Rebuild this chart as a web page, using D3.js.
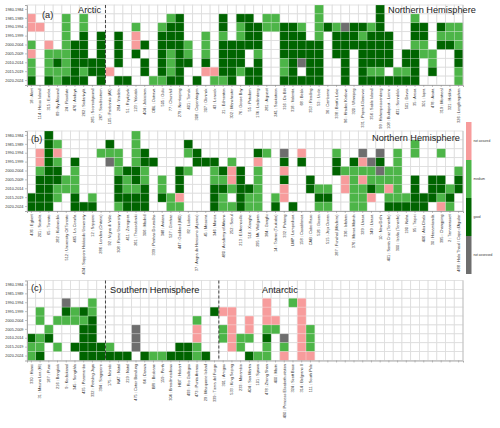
<!DOCTYPE html>
<html>
<head>
<meta charset="utf-8">
<script src="https://cdn.jsdelivr.net/npm/d3@7"></script>
<style>
  body { margin: 0; background: #fff; }
  text { font-family: "Liberation Sans", Arial, sans-serif; }
</style>
</head>
<body>
<script>
// time periods (rows)
const periods = ["1980-1984", "1985-1989", "1990-1994", "1995-1999", "2000-2004",
                 "2005-2009", "2010-2014", "2015-2019", "2020-2024"];

// quality classes: p = not assured, m = medium, g = good, x = not assessed, . = no data
const classes = ["p", "m", "g", "x"];
const classNames = ["not assured", "medium", "good", "not assessed"];

// (a) Arctic + Northern Hemisphere
const stationsA = ["18 : Alert", "114 : Heiss Island", "315 : Eureka", "89 : Ny Ålesund", "24 : Resolute",
  "476 : Andoya", "262 : Sodankylä", "285 : Scoresbysund", "267 : Sondrestrom", "105 : Fairbanks (AK)",
  "284 : Vindeln", "51 : Reykjavik", "123 : Yakutsk", "404 : Jokioinen", "OBL : Ostrava",
  "505 : Oulu", "77 : Churchill", "279 : Norrkoping", "401 : Tomsk", "308 : Copenhagen",
  "307 : Obninsk", "43 : Lerwick", "21 : Edmonton", "302 : Manchester", "76 : Goose Bay",
  "55 : Potsdam", "174 : Lindenberg", "281 : Aiguest", "241 : Saskatoon", "316 : De Bilt",
  "318 : Valentia", "68 : Belsk", "353 : Reading", "53 : Uccle", "36 : Camborne",
  "338 : Bratt's Lake", "96 : Hradec Kralove", "320 : Winnipeg", "331 : Poprad-Ganovce", "356 : Sable Island",
  "99 : Hohenpeissenberg", "108 : Budapest - Lorinc", "431 : Sonnblick", "501 : Davos", "35 : Arosa",
  "301 : Ispra", "478 : Aosta", "319 : Montreal", "321 : Halifax", "326 : Longfengshan"];
const qualityA = [".pp.mpmmg", "..p......", "....pmmmg", ".....mgmm", ".mmmmmmmg",
  "....ggggg", ".mmggggmg", "......gg.", "...gggggg", ".......p.",
  "...gggg.g", "........g", "..mppg...", "....g.gg.", "........m",
  "..mgggggm", ".mgggmmmg", ".gggggggg", "....mmg..", "........g",
  "...mmmgp.", ".......pm", ".ggmggggm", "....ggggg", ".gmmgggm.",
  ".gggg..gg", "..gggmggg", ".mm......", ".mm......", "..ggggmmg",
  "..ggggggg", "..mgggx.g", "....ggggg", "mmmmggggg", "..g......",
  "..mggg...", "..xgggggg", "..ggg....", "..gmggggg", "..mggggmg",
  "gggggggmg", "...gggg.g", ".......mg", ".....ggmg", ".mggmgggg",
  "..ggmm...", ".....mmg.", "..gmg....", "..mmg....", "..mmmggmm"];

// (b) Northern Hemisphere
const stationsB = ["436 : Egbert", "201 : Sestola", "65 : Toronto", "282 : Kislovodsk", "512 : University Of Toronto",
  "465 : La Coruña", "434 : Sapporo Hokkaido University", "12 : Sapporo", "286 : London (Ontario)", "92 : Vigna di Valle",
  "308 : Rome University", "411 : Zaragoza", "261 : Thessaloniki", "306 : Madrid", "339 : Penhas Douradas",
  "348 : Ankara", "527 : Gimhae", "447 : Goddard (MD)", "82 : Lisbon", "37 : Angra do Heroismo (Açores)",
  "45 : Messina", "346 : Murcia", "480 : Academy of Athens", "252 : Seoul", "213 : El Arenosillo",
  "516 : Xianghe", "295 : Mt. Waliguan", "384 : Gongfu", "14 : Tateno (Tsukuba)", "332 : Pohang",
  "LMP : Lampedusa", "158 : Casablanca", "CAB : Cabo Raso", "526 : Gosan", "515 : Jeju Ocean",
  "287 : Funchal (Madeira)", "336 : Isfahan", "376 : Mersa Matruh", "329 : Lhasa", "349 : Lhasa",
  "10 : New Delhi", "401 : Santa Cruz (Tenerife)", "300 : Izaña (Tenerife)", "190 : Naha", "95 : Taipei",
  "406 : Abu Dhabi", "30 : Hanamkonda", "395 : Changping", "2 : Tamanrasset", "488 : Hala Thaul / Cape d'Aguilar"];
const qualityB = [".......gg", "..ppmgggg", "ggggggggg", ".mpmggmm.", ".....mm..",
  "...gmmmgg", "........g", ".......mg", "..m......", ".gmx.....",
  "..mmmgggm", "....gmmgg", "mmmmggmgg", "..ggmmggg", "...g.....",
  ".....mmg.", ".......mm", "....gggpm", ".gm.m....", "..gg.....",
  "...g.....", "...gmmggg", "....gmgmm", "...mppm.m", "....ggggg",
  "......gmm", "..gpmmmmm", "..m......", ".......mg", "..xgpgpp.",
  "........g", "..pg.....", ".....gg..", "......mgm", "......mgm",
  "..mgg....", "....mpp..", "...gmmmmm", "..xpmpmmm", "...xmmgp.",
  "..xgxmm..", "....mmpmg", "..mmmmmmg", ".......mg", ".mm..gggg",
  ".......gg", ".....ggg.", "..m..ggmp", "......mgm", "....mgg.."];

// (c) Tropics, Southern Hemisphere, Antarctic (17 empty columns at the end)
const stationsC = ["330 : Hanoi", "31 : Mauna Loa (HI)", "187 : Pune", "216 : Bangkok", "9 : Kodaikanal",
  "345 : Songkhla", "435 : Paramaribo", "332 : Petaling Jaya", "394 : Singapore", "175 : Nairobi",
  "NAT : Natal", "219 : Natal", "475 : Cotair Bandung", "84 : Darwin", "BRI : Brisbane",
  "159 : Perth", "304 : Broadmeadows", "HBT : Hobart", "493 : Rio Gallegos", "473 : Punta Arenas",
  "29 : Macquarie Island", "339 : Tierra del Fuego", "301 : Amigas", "533 : King Sejong", "233 : Marambio",
  "404 : San Martin", "101 : Syowa", "478 : Zhong Shan", "400 : Maitri", "490 : Princess Elisabeth station",
  "324 : Scott Base", "314 : Belgrano II", "111 : South Pole",
  "", "", "", "", "", "", "", "", "", "", "", "", "", "", "", "", ""];
const qualityC = ["......gmm", "...mm.mmg", ".....mg..", "....m..m.", "..xgm....",
  "...mm..g.", "...gmgggg", "..mmggggg", ".......gg", ".......mg",
  "........g", "........g", ".....xxx.", "........g", "........m",
  "........m", "........g", ".......gg", ".......gg", "....mppmm",
  "........g", "...g.....", "...p.mm..", "...ppppp.", "......mm.",
  "....ppm.g", "........m", "..pppmgmm", "....pm...", "......xmp",
  "..m......", "..ppppppp", ".....mmmp",
  ".........", ".........", ".........", ".........", ".........", ".........", ".........", ".........",
  ".........", ".........", ".........", ".........", ".........", ".........", ".........", ".........", "........."];

const svgWidth = 500;
const svgHeight = 428;
const gridLeft = 27, gridRight = 463, panelHeight = 80;

const colourScale = d3.scaleOrdinal()
  .domain(classes)
  .range(["#f79c9c", "#4db548", "#006400", "#6e6e6e"]);

const svg = d3.select("body").append("svg")
  .attr("width", svgWidth)
  .attr("height", svgHeight);

const xScale = d3.scaleBand().domain(d3.range(50)).range([gridLeft, gridRight]);

function drawPanel(top, stations, quality, tag, tagX, titles, dividers) {
  const yScale = d3.scaleBand().domain(periods).range([top, top + panelHeight]);
  const g = svg.append("g");

  // empty grid
  const cells = [];
  quality.forEach((q, i) => periods.forEach((p, j) => cells.push({ i: i, p: p, c: q[j] })));

  g.selectAll("rect.bg").data(cells).enter().append("rect")
    .attr("class", "bg")
    .attr("x", d => xScale(d.i)).attr("y", d => yScale(d.p))
    .attr("width", xScale.bandwidth()).attr("height", yScale.bandwidth())
    .attr("fill", "#fff").attr("stroke", "#dcdcdc").attr("stroke-width", 0.8);

  g.selectAll("rect.cell").data(cells.filter(d => d.c !== ".")).enter().append("rect")
    .attr("class", "cell")
    .attr("x", d => xScale(d.i)).attr("y", d => yScale(d.p))
    .attr("width", xScale.bandwidth()).attr("height", yScale.bandwidth())
    .attr("fill", d => colourScale(d.c))
    .attr("stroke", "rgba(255,255,255,0.35)").attr("stroke-width", 0.6);

  // y axis
  const yAxis = d3.axisLeft(yScale).tickSize(2).tickPadding(1.5);
  g.append("g").attr("transform", "translate(" + gridLeft + ",0)").call(yAxis)
    .call(a => a.select(".domain").attr("stroke", "#aaa"))
    .call(a => a.selectAll(".tick line").attr("stroke", "#888").attr("stroke-width", 0.5))
    .call(a => a.selectAll("text").attr("font-size", 3.8).attr("fill", "#333"));

  // x axis with rotated station names
  const xAxis = d3.axisBottom(xScale).tickSize(2).tickFormat(i => stations[i]);
  g.append("g").attr("transform", "translate(0," + (top + panelHeight) + ")").call(xAxis)
    .call(a => a.select(".domain").attr("stroke", "#aaa"))
    .call(a => a.selectAll(".tick line").attr("stroke", "#888").attr("stroke-width", 0.5))
    .call(a => a.selectAll("text")
      .attr("font-size", 3.9).attr("fill", "#333")
      .attr("transform", "rotate(-90)")
      .attr("text-anchor", "end")
      .attr("x", -3.5).attr("y", 0).attr("dy", "0.35em"));

  // right border
  g.append("line").attr("x1", gridRight).attr("x2", gridRight)
    .attr("y1", top).attr("y2", top + panelHeight).attr("stroke", "#bbb").attr("stroke-width", 0.8);

  // region dividers
  dividers.forEach(k => {
    g.append("line").attr("x1", xScale(k)).attr("x2", xScale(k))
      .attr("y1", top).attr("y2", top + panelHeight)
      .attr("stroke", "#333").attr("stroke-width", 0.9).attr("stroke-dasharray", "3,2");
  });

  g.append("text").attr("x", tagX).attr("y", top + (tag === "(a)" ? 12.5 : 10.5))
    .attr("font-size", 9.2).attr("fill", "#222").text(tag);

  titles.forEach(t => {
    g.append("text").attr("x", t[1]).attr("y", top + t[2])
      .attr("font-size", 9.2).attr("fill", "#222").text(t[0]);
  });
}

drawPanel(5, stationsA, qualityA, "(a)", 42,
  [["Arctic", 78, 7.7], ["Northern Hemisphere", 388, 7.7]], [9]);
drawPanel(131, stationsB, qualityB, "(b)", 31,
  [["Northern Hemisphere", 372, 9.7]], []);
drawPanel(280.5, stationsC, qualityC, "(c)", 31,
  [["Southern Hemisphere", 110, 12], ["Antarctic", 262, 12]], [9, 22]);

// legend colour bar
const legendScale = d3.scaleBand().domain(classes).range([122, 274]);
const legend = svg.append("g");
legend.selectAll("rect").data(classes).enter().append("rect")
  .attr("x", 466).attr("y", d => legendScale(d))
  .attr("width", 5.5).attr("height", legendScale.bandwidth())
  .attr("fill", d => colourScale(d));
legend.selectAll("text").data(classes).enter().append("text")
  .attr("x", 473.5).attr("y", d => legendScale(d) + legendScale.bandwidth() / 2)
  .attr("dy", "0.35em").attr("font-size", 3.2).attr("fill", "#333")
  .text((d, i) => classNames[i]);
</script>
</body>
</html>
